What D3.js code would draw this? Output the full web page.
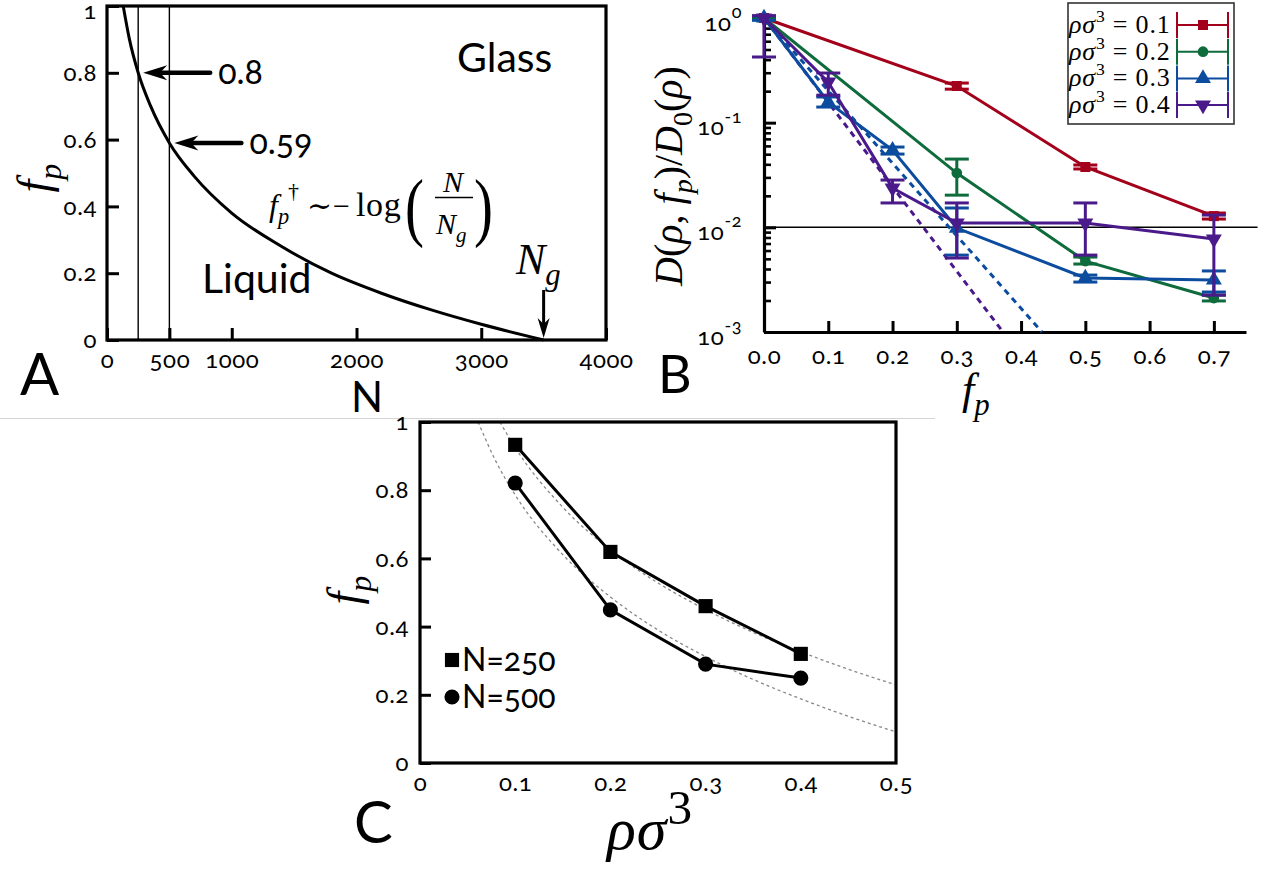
<!DOCTYPE html>
<html>
<head>
<meta charset="utf-8">
<script src="https://cdn.jsdelivr.net/npm/d3@7"></script>
<style>
  body { margin: 0; background: #fff; }
  svg text { font-family: Lato, 'Open Sans', sans-serif; fill: #000; }
  .num, .tick text { font-variant-numeric: oldstyle-nums; font-feature-settings: "onum" 1; }
  .tick text { letter-spacing: 0.6px; }
  svg text.math, svg .math tspan { font-family: 'Liberation Serif', 'DejaVu Serif', serif; }
</style>
</head>
<body>
<svg id="fig" width="1266" height="871"></svg>
<script>
// ---------- Panel A: f_p threshold vs N ----------
const curveN = [130, 180, 250, 350, 500, 700, 1000, 1400, 1800, 2200, 2600, 3000, 3500];
const curveF = [1.0, 0.90, 0.80, 0.70, 0.59, 0.49, 0.38, 0.28, 0.20, 0.14, 0.09, 0.047, 0];
const markN = [250, 500];
const markF = [0.8, 0.59];
const markLabels = ['0.8', '0.59'];
const NgValue = 3500;
const xTicksA = [0, 500, 1000, 2000, 3000, 4000];
const yTicksA = [0, 0.2, 0.4, 0.6, 0.8, 1];

// ---------- Panel B: D(rho,fp)/D0 vs fp, rows = [fp, value, lower, upper] ----------
const rho01 = [[0, 1, 0.97, 1.03], [0.3, 0.224, 0.209, 0.239], [0.5, 0.0377, 0.0361, 0.0394], [0.7, 0.0128, 0.0120, 0.0137]];
const rho02 = [[0, 1, 0.97, 1.03], [0.3, 0.0330, 0.0203, 0.0449], [0.5, 0.00476, 0.00446, 0.00520], [0.7, 0.00211, 0.00198, 0.00225]];
const rho03 = [[0, 1, 0.95, 1.05], [0.1, 0.157, 0.141, 0.176], [0.2, 0.0547, 0.0501, 0.0585], [0.3, 0.00984, 0.00543, 0.0153], [0.5, 0.00328, 0.00300, 0.00350], [0.7, 0.00314, 0.00241, 0.00383]];
const rho04 = [[0, 1, 0.424, 1.05], [0.1, 0.244, 0.183, 0.298], [0.2, 0.0237, 0.0171, 0.0283], [0.3, 0.0110, 0.00509, 0.0171], [0.5, 0.0110, 0.00543, 0.0171], [0.7, 0.00773, 0.00225, 0.0131]];
const fit03 = [[0, 1], [0.4325, 0.001]];
const fit04 = [[0, 1], [0.372, 0.001]];
const rhoNames = ['0.1', '0.2', '0.3', '0.4'];
const rhoColors = ['#a3001c', '#0e6b3b', '#0b4c9f', '#4a1a8b'];
const refD = 0.01;
const xTicksB = [0, 0.1, 0.2, 0.3, 0.4, 0.5, 0.6, 0.7];
const yMajorB = [1e-3, 1e-2, 1e-1, 1];
const yExpB = ['-3', '-2', '-1', '0'];

// ---------- Panel C: threshold f_p vs rho sigma^3 ----------
const rhoC = [0.1, 0.2, 0.3, 0.4];
const f250 = [0.933, 0.619, 0.46, 0.32];
const f500 = [0.821, 0.449, 0.29, 0.249];
const guideRhoA = [0.084, 0.1, 0.15, 0.2, 0.25, 0.3, 0.35, 0.4, 0.45, 0.5];
const guide250 = [1.0, 0.925, 0.75, 0.625, 0.528, 0.45, 0.383, 0.326, 0.275, 0.229];
const guideRhoB = [0.061, 0.08, 0.1, 0.15, 0.2, 0.25, 0.3, 0.35, 0.4, 0.45, 0.5];
const guide500 = [1.0, 0.883, 0.786, 0.611, 0.487, 0.39, 0.312, 0.245, 0.188, 0.137, 0.091];
const xTicksC = [0, 0.1, 0.2, 0.3, 0.4, 0.5];
const yTicksC = [0, 0.2, 0.4, 0.6, 0.8, 1];

const svg = d3.select('#fig');
const zip = (a, b) => a.map((v, i) => [v, b[i]]);
const fmtTick = d => (d === 0 ? '0' : d === 1 ? '1' : d3.format('.1f')(d));

// text with italic / sub / sup pieces
function mathText(parent, x, y, size, parts, anchor) {
  const t = parent.append('text').attr('class', 'math')
    .attr('x', x).attr('y', y).attr('font-size', size)
    .attr('text-anchor', anchor || 'start');
  let shift = 0;
  parts.forEach(([str, o = {}]) => {
    const target = o.sub ? size * 0.25 : o.sup ? -size * 0.42 : 0;
    const s = t.append('tspan').text(str).attr('dy', target - shift);
    shift = target;
    if (o.it) s.attr('font-style', 'italic');
    if (o.sub || o.sup) s.attr('font-size', size * (o.scale || 0.7));
    if (o.dx) s.attr('dx', o.dx);
  });
  return t;
}

function arrowHead(g, x, y, dir, len, half) {
  const p = dir === 'left'
    ? [[x, y], [x + len, y - half], [x + len * 0.7, y], [x + len, y + half]]
    : [[x, y], [x - half, y - len], [x, y - len * 0.7], [x + half, y - len]];
  g.append('path').attr('d', 'M' + p.join('L') + 'Z').attr('fill', '#000');
}

svg.append('line').attr('x1', 0).attr('x2', 935).attr('y1', 418.5).attr('y2', 418.5)
  .attr('stroke', '#d4d4d4').attr('stroke-width', 1);

// ================= Panel A =================
{
  const xA = d3.scaleLinear().domain([0, 4000]).range([107, 606]);
  const yA = d3.scaleLinear().domain([0, 1]).range([340, 6]);
  const g = svg.append('g');

  g.append('g').attr('transform', `translate(${xA(0)},0)`)
    .call(d3.axisLeft(yA).tickValues(yTicksA).tickFormat(fmtTick).tickSizeInner(-12).tickSizeOuter(0).tickPadding(10))
    .call(ax => ax.select('.domain').remove())
    .call(ax => ax.selectAll('.tick line').attr('stroke-width', 3))
    .call(ax => ax.selectAll('.tick text').filter(d => d === 1).attr('dy', '0.5em'))
    .attr('font-size', 24);

  g.append('g').attr('transform', `translate(0,${yA(0)})`)
    .call(d3.axisBottom(xA).tickValues(xTicksA).tickFormat(d3.format('d')).tickSizeInner(-12).tickSizeOuter(0).tickPadding(11))
    .call(ax => ax.select('.domain').remove())
    .call(ax => ax.selectAll('.tick line').attr('stroke-width', 3))
    .attr('font-size', 24);

  g.selectAll('.vline').data(markN).join('line')
    .attr('x1', d => xA(d)).attr('x2', d => xA(d))
    .attr('y1', yA(0)).attr('y2', yA(1))
    .attr('stroke', '#000').attr('stroke-width', 1.4);

  g.append('path')
    .attr('d', d3.line().x(d => xA(d[0])).y(d => yA(d[1])).curve(d3.curveMonotoneX)(zip(curveN, curveF)))
    .attr('fill', 'none').attr('stroke', '#000').attr('stroke-width', 3);

  g.append('rect').attr('x', xA(0)).attr('y', yA(1))
    .attr('width', xA(4000) - xA(0)).attr('height', yA(0) - yA(1))
    .attr('fill', 'none').attr('stroke', '#000').attr('stroke-width', 3.2);

  markN.forEach((n, i) => {
    const tx = xA(n) + 5, ty = yA(markF[i]);
    g.append('line').attr('x1', tx + 15).attr('x2', tx + 67).attr('y1', ty).attr('y2', ty)
      .attr('stroke', '#000').attr('stroke-width', 4.5).attr('stroke-linecap', 'round');
    arrowHead(g, tx, ty, 'left', 24, 7.5);
    g.append('text').attr('class', 'num').attr('x', tx + 75).attr('y', ty + 11)
      .attr('font-size', 34).text(markLabels[i]);
  });

  g.append('text').attr('x', 457).attr('y', 72).attr('font-size', 41).text('Glass');
  g.append('text').attr('x', 202).attr('y', 293).attr('font-size', 41).text('Liquid');

  // f_p^dagger ~ -log(N/N_g)
  mathText(g, 269, 216, 32, [['f', { it: true }], ['p', { it: true, sub: true }]]);
  mathText(g, 288, 198, 22, [['\u2020']]);
  mathText(g, 307, 216, 30, [['\u223C']]);
  mathText(g, 333, 216, 30, [['\u2212']]);
  mathText(g, 356, 216, 34, [['log']]).attr('letter-spacing', 0.6);
  g.append('text').attr('class', 'math').attr('transform', 'translate(405,232) scale(0.75,1)').attr('font-size', 76).text('(');
  g.append('text').attr('class', 'math').attr('transform', 'translate(474,232) scale(0.75,1)').attr('font-size', 76).text(')');
  mathText(g, 453, 192, 30, [['N', { it: true }]], 'middle');
  g.append('line').attr('x1', 435).attr('x2', 473).attr('y1', 197.5).attr('y2', 197.5).attr('stroke', '#000').attr('stroke-width', 1.3);
  mathText(g, 436, 234, 30, [['N', { it: true }], ['g', { it: true, sub: true }]]);

  mathText(g, 516, 274, 44, [['N', { it: true }], ['g', { it: true, sub: true }]]);
  g.append('line').attr('x1', xA(NgValue)).attr('x2', xA(NgValue)).attr('y1', 290).attr('y2', yA(0) - 14)
    .attr('stroke', '#000').attr('stroke-width', 3);
  arrowHead(g, xA(NgValue), yA(0) - 2, 'down', 20, 6);

  g.append('text').attr('x', 367).attr('y', 412).attr('font-size', 42).attr('text-anchor', 'middle').text('N');
  g.append('text').attr('x', 20).attr('y', 395).attr('font-size', 58).text('A');
  mathText(g.append('g').attr('transform', 'translate(49,178) rotate(-90)'), 0, 0, 46,
    [['f', { it: true }], ['p', { it: true, sub: true }]], 'middle');
}

// ================= Panel B =================
{
  const xB = d3.scaleLinear().domain([0, 0.75]).range([764, 1246]);
  const yB = d3.scaleLog().domain([1e-3, 1]).range([332, 18]);
  const g = svg.append('g');

  const minor = [];
  yMajorB.slice(0, 3).forEach(dec => d3.range(2, 10).forEach(m => minor.push(m * dec)));
  g.append('g').attr('transform', `translate(${xB(0)},0)`)
    .call(d3.axisLeft(yB).tickValues(minor).tickFormat('').tickSizeInner(-7).tickSizeOuter(0))
    .call(ax => ax.select('.domain').remove())
    .call(ax => ax.selectAll('.tick line').attr('stroke-width', 2.6));

  g.append('g').attr('transform', `translate(${xB(0)},0)`)
    .call(d3.axisLeft(yB).tickValues(yMajorB).tickSizeInner(-12).tickSizeOuter(0).tickPadding(22))
    .call(ax => ax.select('.domain').attr('stroke-width', 3.2))
    .call(ax => ax.selectAll('.tick line').attr('stroke-width', 3))
    .attr('font-size', 24)
    .call(ax => ax.selectAll('.tick text').each(function (d) {
      const t = d3.select(this).text(null).attr('dy', '0.5em');
      t.append('tspan').text('10');
      t.append('tspan').attr('dy', '-0.7em').attr('font-size', 18).text(yExpB[yMajorB.indexOf(d)]);
    }));

  g.append('g').attr('transform', `translate(0,${yB(1e-3)})`)
    .call(d3.axisBottom(xB).tickValues(xTicksB).tickFormat(d3.format('.1f')).tickSizeInner(-11).tickSizeOuter(0).tickPadding(15))
    .call(ax => ax.select('.domain').attr('stroke-width', 3.2))
    .call(ax => ax.selectAll('.tick line').attr('stroke-width', 3))
    .attr('font-size', 24);

  g.append('line').attr('x1', xB(0)).attr('x2', xB(0.768)).attr('y1', yB(refD)).attr('y2', yB(refD))
    .attr('stroke', '#000').attr('stroke-width', 1.5);

  const line = d3.line().x(d => xB(d[0])).y(d => yB(d[1]));
  [[fit04, 3], [fit03, 2]].forEach(([fit, ci]) => {
    g.append('path').attr('d', line(fit)).attr('fill', 'none')
      .attr('stroke', rhoColors[ci]).attr('stroke-width', 3).attr('stroke-dasharray', '6,5');
  });

  const series = [rho01, rho02, rho03, rho04];
  const symbols = [
    d3.symbol(d3.symbolSquare, 100),
    d3.symbol(d3.symbolCircle, 90),
    d3.symbol(d3.symbolTriangle, 110),
    d3.symbol(d3.symbolTriangle, 110)
  ];
  const rotations = [0, 0, 0, 180];

  series.forEach((rows, si) => {
    const col = rhoColors[si];
    const sg = g.append('g');
    sg.append('path').attr('d', line(rows)).attr('fill', 'none').attr('stroke', col).attr('stroke-width', 3);
    rows.forEach(r => {
      const x = xB(r[0]);
      sg.append('line').attr('x1', x).attr('x2', x).attr('y1', yB(r[2])).attr('y2', yB(r[3]))
        .attr('stroke', col).attr('stroke-width', 3);
      [r[2], r[3]].forEach(v => sg.append('line').attr('x1', x - 12).attr('x2', x + 12)
        .attr('y1', yB(v)).attr('y2', yB(v)).attr('stroke', col).attr('stroke-width', 3));
    });
    sg.selectAll('.mk').data(rows).join('path')
      .attr('d', symbols[si])
      .attr('transform', d => `translate(${xB(d[0])},${yB(d[1])}) rotate(${rotations[si]})`)
      .attr('fill', col);
  });

  const lg = g.append('g');
  lg.append('rect').attr('x', 1068).attr('y', 3).attr('width', 166).attr('height', 121)
    .attr('fill', '#fff').attr('stroke', '#333').attr('stroke-width', 1.6);
  rhoNames.forEach((nm, i) => {
    const y = 25 + i * 26.7, col = rhoColors[i];
    mathText(lg, 1069, y + 8, 26, [['\u03C1\u03C3', { it: true }], ['3', { sup: true, scale: 0.68 }], [' = ' + nm]])
      .attr('letter-spacing', 0.8);
    lg.append('line').attr('x1', 1177).attr('x2', 1228).attr('y1', y).attr('y2', y).attr('stroke', col).attr('stroke-width', 2);
    [1177, 1228].forEach(x => lg.append('line').attr('x1', x).attr('x2', x).attr('y1', y - 13).attr('y2', y + 13)
      .attr('stroke', col).attr('stroke-width', 2));
    lg.append('path').attr('d', symbols[i]).attr('fill', col)
      .attr('transform', `translate(1203,${y}) rotate(${rotations[i]})`);
  });

  mathText(g.append('g').attr('transform', 'translate(682,176) rotate(-90)'), 0, 0, 40, [
    ['D', { it: true }], ['('], ['\u03C1', { it: true }], [', '], ['f', { it: true }], ['p', { it: true, sub: true }],
    [')'], ['/'], ['D', { it: true }], ['0', { sub: true }], ['('], ['\u03C1', { it: true }], [')']
  ], 'middle');
  mathText(g, 962, 404, 44, [['f', { it: true }], ['p', { it: true, sub: true }]]);
  g.append('text').attr('x', 658).attr('y', 393).attr('font-size', 52).text('B');
}

// ================= Panel C =================
{
  const xC = d3.scaleLinear().domain([0, 0.5]).range([420, 896]);
  const yC = d3.scaleLinear().domain([0, 1]).range([763, 422]);
  const g = svg.append('g');

  g.append('g').attr('transform', `translate(${xC(0)},0)`)
    .call(d3.axisLeft(yC).tickValues(yTicksC).tickFormat(fmtTick).tickSizeInner(-11).tickSizeOuter(0).tickPadding(11))
    .call(ax => ax.select('.domain').remove())
    .call(ax => ax.selectAll('.tick line').attr('stroke-width', 3))
    .attr('font-size', 24);

  g.append('g').attr('transform', `translate(0,${yC(0)})`)
    .call(d3.axisBottom(xC).tickValues(xTicksC).tickFormat(fmtTick).tickSize(0).tickPadding(11))
    .call(ax => ax.select('.domain').remove())
    .attr('font-size', 24);

  g.append('defs').append('clipPath').attr('id', 'clipC').append('rect')
    .attr('x', xC(0)).attr('y', yC(1)).attr('width', xC(0.5) - xC(0)).attr('height', yC(0) - yC(1));

  const ln = d3.line().x(d => xC(d[0])).y(d => yC(d[1]));
  const lnS = d3.line().x(d => xC(d[0])).y(d => yC(d[1])).curve(d3.curveMonotoneX);
  [zip(guideRhoA, guide250), zip(guideRhoB, guide500)].forEach(pts => {
    g.append('path').attr('d', lnS(pts)).attr('clip-path', 'url(#clipC)').attr('fill', 'none')
      .attr('stroke', '#888').attr('stroke-width', 1.3).attr('stroke-dasharray', '3,3');
  });

  const sq = d3.symbol(d3.symbolSquare, 200);
  const ci = d3.symbol(d3.symbolCircle, 180);
  [[f250, sq], [f500, ci]].forEach(([vals, sym]) => {
    const pts = zip(rhoC, vals);
    g.append('path').attr('d', ln(pts)).attr('fill', 'none').attr('stroke', '#000').attr('stroke-width', 3);
    g.selectAll(null).data(pts).join('path').attr('d', sym)
      .attr('transform', d => `translate(${xC(d[0])},${yC(d[1])})`).attr('fill', '#000');
  });

  g.append('rect').attr('x', xC(0)).attr('y', yC(1))
    .attr('width', xC(0.5) - xC(0)).attr('height', yC(0) - yC(1))
    .attr('fill', 'none').attr('stroke', '#000').attr('stroke-width', 3.2);

  [['N=250', sq, 660], ['N=500', ci, 697]].forEach(([lab, sym, y]) => {
    g.append('path').attr('d', sym).attr('transform', `translate(452,${y})`).attr('fill', '#000');
    g.append('text').attr('class', 'num').attr('x', 462).attr('y', y + 11).attr('font-size', 32).text(lab);
  });

  mathText(g, 607, 849, 60, [['\u03C1\u03C3', { it: true }], ['3', { sup: true, scale: 0.82 }]]).attr('letter-spacing', 1);
  g.append('text').attr('x', 354).attr('y', 843).attr('font-size', 58).text('C');
  mathText(g.append('g').attr('transform', 'translate(359,590) rotate(-90)'), 0, 0, 46,
    [['f', { it: true }], ['p', { it: true, sub: true }]], 'middle');
}
</script>
</body>
</html>
